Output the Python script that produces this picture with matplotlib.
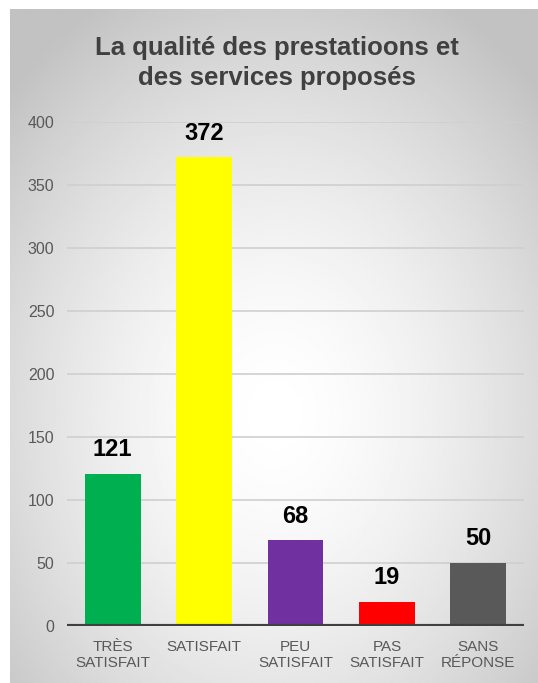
import numpy as np
import matplotlib.pyplot as plt

# data
categories = ["TRÈS\nSATISFAIT", "SATISFAIT", "PEU\nSATISFAIT", "PAS\nSATISFAIT", "SANS\nRÉPONSE"]
counts = [121, 372, 68, 19, 50]
colors = ["#00b050", "#ffff00", "#7030a0", "#ff0000", "#595959"]
yticks = [0, 50, 100, 150, 200, 250, 300, 350, 400]

plt.rcParams['font.family'] = ['Liberation Sans', 'DejaVu Sans']

fig = plt.figure(figsize=(5.38, 6.83), dpi=100)
fig.patch.set_facecolor("white")

# panel with radial gradient background
bg = fig.add_axes([10 / 538, 0, 1 - 10 / 538, 1 - 9 / 683])
ny, nx = 400, 320
yy, xx = np.mgrid[0:ny, 0:nx]
cx, cy = nx * 0.5, ny * 0.6
r = np.sqrt(((xx - cx) / (nx * 0.62)) ** 2 + ((yy - cy) / (ny * 0.62)) ** 2)
shade = np.clip(1.0 - 0.2 * r ** 1.6, 0.76, 1.0)
bg.imshow(shade, cmap="gray", vmin=0, vmax=1, aspect="auto", interpolation="bilinear")
bg.set_axis_off()

ax = fig.add_axes([67 / 538, 1 - 626 / 683, (524 - 67) / 538, (626 - 122) / 683])
ax.patch.set_alpha(0)
x = np.arange(len(counts))
ax.bar(x, counts, width=0.61, color=colors, zorder=3)
for xi, v in zip(x, counts):
    ax.text(xi, v + 10, str(v), ha="center", va="bottom", fontsize=17,
            fontweight="bold", color="black")

ax.set_xlim(-0.5, len(counts) - 0.5)
ax.set_ylim(0, 400)
ax.set_yticks(yticks)
ax.yaxis.grid(True, color="#cfcfcf", linewidth=1.2, zorder=0)
ax.axhline(0, color="#404040", linewidth=3, zorder=4)
ax.set_xticks(x)
ax.set_xticklabels(categories, fontsize=11, color="#595959", linespacing=1.15)
ax.tick_params(axis="y", labelsize=11.5, labelcolor="#595959", length=0, pad=9)
ax.tick_params(axis="x", length=0, pad=10)
for s in ax.spines.values():
    s.set_visible(False)

fig.text(0.514, 1 - 63 / 683, "La qualité des prestatioons et\ndes services proposés",
         ha="center", va="center", fontsize=18.5, fontweight="bold",
         color="#404040", linespacing=1.3)

fig.savefig("out.png", dpi=100)
